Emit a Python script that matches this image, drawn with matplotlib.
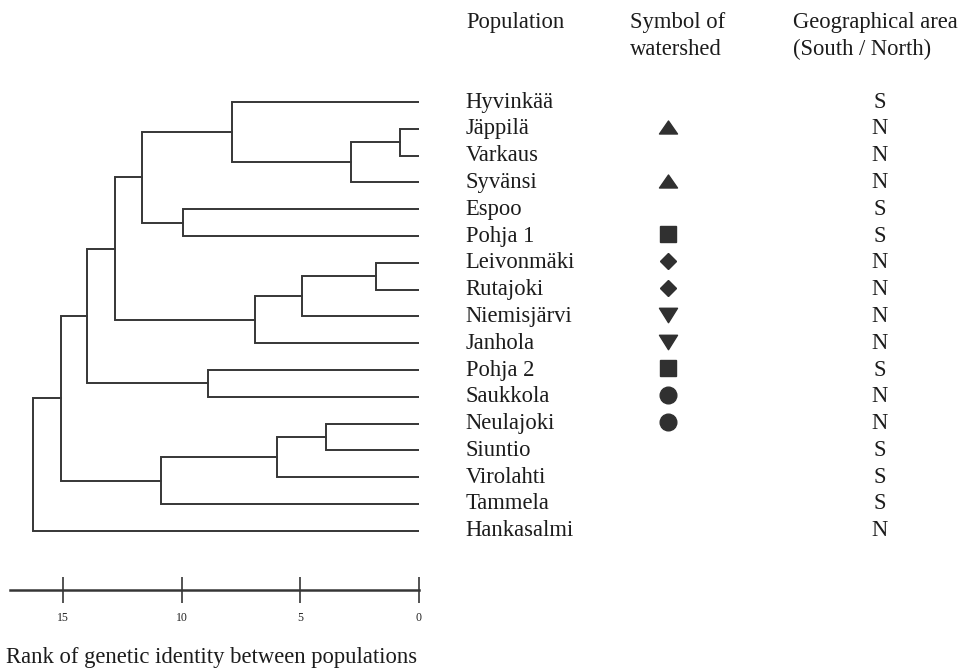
import matplotlib
matplotlib.use("Agg")
import matplotlib.pyplot as plt
from matplotlib.path import Path


# Populations in dendrogram order (top to bottom)
populations = [
    "Hyvinkää", "Jäppilä", "Varkaus", "Syvänsi", "Espoo", "Pohja 1",
    "Leivonmäki", "Rutajoki", "Niemisjärvi", "Janhola", "Pohja 2",
    "Saukkola", "Neulajoki", "Siuntio", "Virolahti", "Tammela", "Hankasalmi",
]

watershed_symbols = [
    "", "tri_up", "", "tri_up", "", "square",
    "diamond", "diamond", "tri_down", "tri_down", "square",
    "circle", "circle", "", "", "", "",
]

areas = [
    "S", "N", "N", "N", "S", "S",
    "N", "N", "N", "N", "S",
    "N", "N", "S", "S", "S", "N",
]

# Merges: clusters numbered 0..16 are leaves, each merge creates a new id (17, 18, ...)
merge_left = [1, 6, 17, 12, 18, 20, 21, 0, 10, 4, 22, 24, 28, 29, 30, 31]
merge_right = [2, 7, 3, 13, 8, 14, 9, 19, 11, 5, 15, 26, 23, 25, 27, 16]
merge_rank = [0.8, 1.8, 2.85, 3.9, 4.95, 6.0, 6.9, 7.9, 8.9, 9.95,
              10.9, 11.7, 12.8, 14.0, 15.1, 16.3]

scale_ticks = [0, 5, 10, 15]

LINE_COLOR = "#363636"
TEXT_COLOR = "#1c1c1c"
FONT = "Liberation Serif"
FS = 16.3

plt.rcParams["font.family"] = [FONT, "DejaVu Serif"]

fig = plt.figure(figsize=(9.8, 6.7), dpi=100)

ax = fig.add_axes([0.0102, 0.1194, 0.4173, 0.7463])
ax_tab = fig.add_axes([0.459, 0.1194, 0.541, 0.7463], sharey=ax)

# --- dendrogram ---
n = len(populations)
node_y = {i: float(i) for i in range(n)}
node_h = {i: 0.0 for i in range(n)}

for k, (a, b, h) in enumerate(zip(merge_left, merge_right, merge_rank)):
    node = n + k
    ax.plot(
        [node_h[a], h, h, node_h[b]],
        [node_y[a], node_y[a], node_y[b], node_y[b]],
        color=LINE_COLOR,
        linewidth=1.4,
        solid_joinstyle="miter",
    )
    node_y[node] = (node_y[a] + node_y[b]) / 2
    node_h[node] = h

ax.set_xlim(17.25, 0)
ax.set_ylim(18.21, -0.45)

for side in ["top", "left", "right"]:
    ax.spines[side].set_visible(False)
ax.spines["bottom"].set_color(LINE_COLOR)
ax.spines["bottom"].set_linewidth(1.8)
ax.set_yticks([])
ax.set_xticks(scale_ticks)
ax.set_xticklabels([str(t) for t in scale_ticks])
ax.tick_params(
    axis="x",
    direction="inout",
    length=18.5,
    width=1.2,
    color=LINE_COLOR,
    labelsize=8.5,
    labelcolor="#222222",
    pad=6.5,
)

# --- table: names, watershed symbols, area ---
ax_tab.set_xlim(0, 1)
ax_tab.axis("off")

marker_styles = {
    "tri_up": (Path([(-1, -0.72), (1, -0.72), (0, 0.72), (-1, -0.72)], closed=True), 13),
    "tri_down": (Path([(-1, 0.8), (1, 0.8), (0, -0.8), (-1, 0.8)], closed=True), 13),
    "square": ("s", 11),
    "diamond": ("D", 8),
    "circle": ("o", 12),
}

for i, (name, sym, area) in enumerate(zip(populations, watershed_symbols, areas)):
    ax_tab.text(0.03, i, name, ha="left", va="center",
                fontsize=FS, color=TEXT_COLOR)
    ax_tab.text(0.811, i, area, ha="center", va="center",
                fontsize=FS, color=TEXT_COLOR)
    if sym:
        marker, size = marker_styles[sym]
        ax_tab.plot(0.411, i - 0.06, marker=marker, markersize=size,
                    color="#303030", linestyle="none")

# --- headers and caption ---
fig.text(0.4755, 0.967, "Population", ha="left", va="center",
         fontsize=FS, color=TEXT_COLOR)
fig.text(0.643, 0.967, "Symbol of", ha="left", va="center",
         fontsize=FS, color=TEXT_COLOR)
fig.text(0.643, 0.926, "watershed", ha="left", va="center",
         fontsize=FS, color=TEXT_COLOR)
fig.text(0.809, 0.967, "Geographical area", ha="left", va="center",
         fontsize=FS, color=TEXT_COLOR)
fig.text(0.809, 0.926, "(South / North)", ha="left", va="center",
         fontsize=FS, color=TEXT_COLOR)

fig.text(0.2163, 0.019, "Rank of genetic identity between populations",
         ha="center", va="center", fontsize=FS, color=TEXT_COLOR)

fig.savefig("out.png", dpi=100, facecolor="white")
